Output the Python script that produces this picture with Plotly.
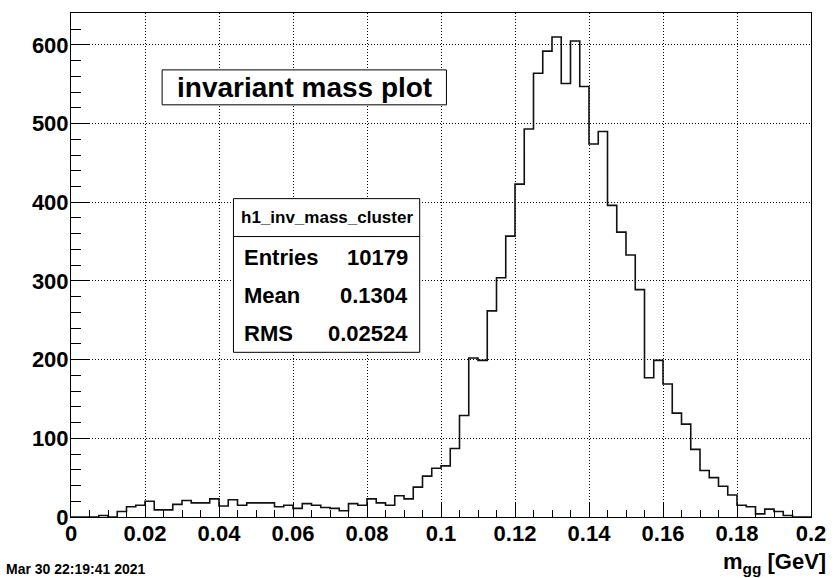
import plotly.graph_objects as go

# ---------------- data ----------------
X_MIN = 0.0
X_MAX = 0.2
N_BINS = 80
counts = [0, 0, 0, 2, 0, 7, 13, 15, 20, 9,
          9, 16, 21, 18, 18, 23, 14, 22, 15, 18,
          18, 18, 13, 15, 11, 17, 15, 12, 11, 8,
          17, 15, 23, 18, 15, 27, 23, 38, 52, 62,
          65, 87, 129, 202, 199, 262, 304, 357, 423, 493,
          564, 592, 610, 551, 605, 547, 474, 490, 396, 362,
          333, 289, 177, 199, 169, 132, 118, 86, 59, 50,
          39, 28, 15, 13, 4, 10, 7, 2, 0, 0]
x_tick_vals = [0, 0.02, 0.04, 0.06, 0.08, 0.1, 0.12, 0.14, 0.16, 0.18, 0.2]
x_tick_text = ["0", "0.02", "0.04", "0.06", "0.08", "0.1", "0.12", "0.14", "0.16", "0.18", "0.2"]
y_tick_vals = [0, 100, 200, 300, 400, 500, 600]
y_tick_text = ["0", "100", "200", "300", "400", "500", "600"]
hist_title = "invariant mass plot"
stats_name = "h1_inv_mass_cluster"
stats_labels = ["Entries", "Mean", "RMS"]
stats_values = ["10179", "0.1304", "0.02524"]
x_title = "m<sub>gg</sub> [GeV]"
date_text = "Mar 30 22:19:41 2021"

# ---------------- build step outline ----------------
bin_w = (X_MAX - X_MIN) / N_BINS
edges = [X_MIN + i * bin_w for i in range(N_BINS + 1)]
step_x = [edges[0]] + edges[:N_BINS] + [edges[N_BINS]]
step_y = [0] + counts + [0]
y_max = max(counts) * 1.05

FONT = "Liberation Sans, Arial, Helvetica, sans-serif"

fig = go.Figure()
fig.add_trace(go.Scatter(
    x=step_x, y=step_y, mode="lines", line_shape="hv",
    line=dict(color="#111111", width=1.6), hoverinfo="skip", showlegend=False,
))

# plot area geometry (pixels)
L, T, W, H = 71, 12, 747, 505


def px(xp):
    return (xp - L) / W


def py(yp):
    return (T + H - yp) / H


shapes = [
    # title box
    dict(type="rect", xref="paper", yref="paper", x0=px(163), x1=px(450), y0=py(104), y1=py(69),
         line=dict(color="black", width=1), fillcolor="white", layer="above"),
    # stats box
    dict(type="rect", xref="paper", yref="paper", x0=px(235), x1=px(423), y0=py(352), y1=py(198),
         line=dict(color="black", width=1), fillcolor="white", layer="above"),
    dict(type="line", xref="paper", yref="paper", x0=px(235), x1=px(423), y0=py(236), y1=py(236),
         line=dict(color="black", width=1), layer="above"),
]

annotations = [
    dict(text=hist_title, xref="paper", yref="paper", x=px(306.5), y=py(86.5),
         xanchor="center", yanchor="middle", showarrow=False,
         font=dict(family=FONT, size=28, color="black", weight="bold")),
    dict(text=stats_name, xref="paper", yref="paper", x=px(329), y=py(217),
         xanchor="center", yanchor="middle", showarrow=False,
         font=dict(family=FONT, size=17, color="black", weight="bold")),
    dict(text=date_text, xref="paper", yref="paper", x=px(3), y=py(569),
         xanchor="left", yanchor="middle", showarrow=False,
         font=dict(family=FONT, size=14, color="black", weight="bold")),
    dict(text=x_title, xref="paper", yref="paper", x=px(835), y=py(563),
         xanchor="right", yanchor="middle", showarrow=False,
         font=dict(family=FONT, size=22, color="black", weight="bold")),
]
row_y = [256.5, 295, 333.5]
for lab, val, yy in zip(stats_labels, stats_values, row_y):
    annotations.append(dict(text=lab, xref="paper", yref="paper", x=px(244), y=py(yy),
                            xanchor="left", yanchor="middle", showarrow=False,
                            font=dict(family=FONT, size=22, color="black", weight="bold")))
    annotations.append(dict(text=val, xref="paper", yref="paper", x=px(413), y=py(yy),
                            xanchor="right", yanchor="middle", showarrow=False,
                            font=dict(family=FONT, size=22, color="black", weight="bold")))

fig.update_layout(
    width=838, height=578,
    margin=dict(l=L, r=838 - L - W, t=T, b=578 - T - H),
    paper_bgcolor="white", plot_bgcolor="white",
    showlegend=False,
    shapes=shapes, annotations=annotations,
    font=dict(family=FONT, color="black"),
)
fig.update_xaxes(
    range=[X_MIN, X_MAX], tickmode="array", tickvals=x_tick_vals, ticktext=x_tick_text,
    ticks="inside", ticklen=15, tickwidth=1, tickcolor="black",
    minor=dict(dtick=0.005, tick0=0, ticks="inside", ticklen=7, tickwidth=1, tickcolor="black", showgrid=False),
    showgrid=True, gridcolor="black", gridwidth=1, griddash="1px,2px",
    showline=True, linecolor="black", linewidth=1, mirror=True,
    zeroline=False, ticklabelstandoff=-3,
    tickfont=dict(family=FONT, size=22, color="black", weight="bold"),
)
fig.update_yaxes(
    range=[0, y_max], tickmode="array", tickvals=y_tick_vals, ticktext=y_tick_text,
    ticks="inside", ticklen=18, tickwidth=1, tickcolor="black",
    minor=dict(dtick=20, tick0=0, ticks="inside", ticklen=10, tickwidth=1, tickcolor="black", showgrid=False),
    showgrid=True, gridcolor="black", gridwidth=1, griddash="1px,2px",
    showline=True, linecolor="black", linewidth=1, mirror=True,
    zeroline=False, ticklabelstandoff=-3,
    tickfont=dict(family=FONT, size=22, color="black", weight="bold"),
)

fig.write_html("out.html", config={"displayModeBar": False},
               post_script="document.body.style.margin='0px';document.body.style.overflow='hidden';")
